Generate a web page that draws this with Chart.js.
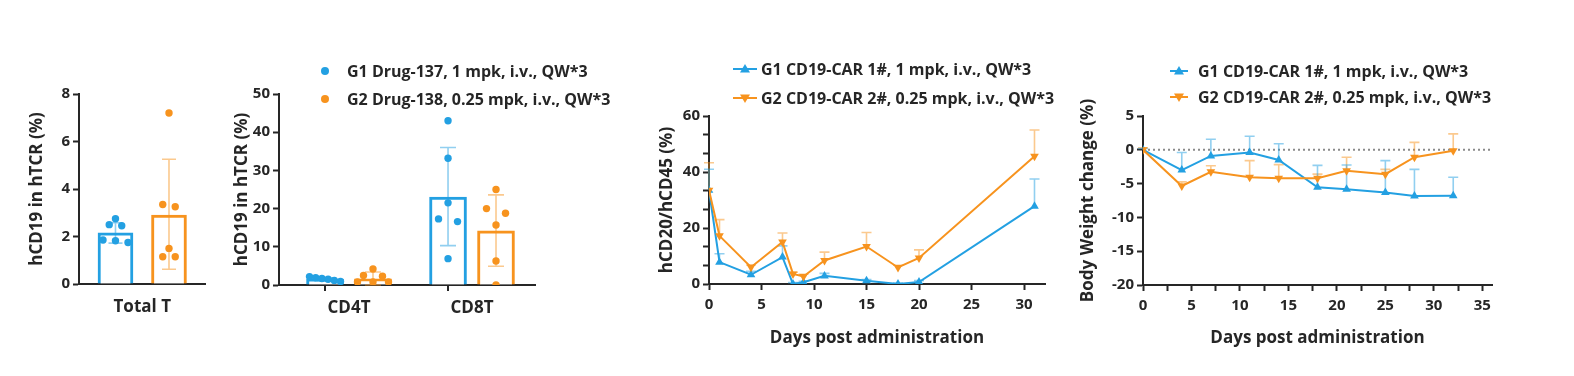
<!DOCTYPE html>
<html>
<head>
<meta charset="utf-8">
<script src="https://cdn.jsdelivr.net/npm/chart.js@4.4.1/dist/chart.umd.min.js"></script>
<style>
  html, body { margin: 0; padding: 0; background: #fff; }
  #wrap { position: relative; width: 1574px; height: 376px; overflow: hidden; }
  #wrap canvas { position: absolute; top: 0; }
</style>
</head>
<body>
<div id="wrap">
  <canvas id="cTotal" width="230" height="376" style="left:0px"></canvas>
  <canvas id="cSubset" width="390" height="376" style="left:230px"></canvas>
  <canvas id="cB" width="440" height="376" style="left:620px"></canvas>
  <canvas id="cBW" width="514" height="376" style="left:1060px"></canvas>
</div>
<script>
const BLUE = '#23a0e2';
const ORANGE = '#f7931e';
const BLUE_ERR = 'rgba(35,160,226,0.5)';
const ORANGE_ERR = 'rgba(247,147,30,0.5)';
const AXIS = '#262626';
const FONT = '"Open Sans", "Noto Sans", sans-serif';
const H = 376;

// ---- panel 1 : Total T ----
const totalCategory = ['Total T'];
const totalMean = [2.15, 2.9];
const totalHi = [2.58, 5.25];
const totalLo = [1.72, 0.62];
const totalG1 = [2.75, 2.5, 2.45, 1.85, 1.82, 1.75];
const totalG2 = [7.2, 3.35, 3.25, 1.5, 1.15, 1.15];

// ---- panel 2 : CD4T / CD8T ----
const subsetCategories = ['CD4T', 'CD8T'];
const subsetG1Mean = [1.5, 23.0];
const subsetG1Hi = [1.9, 36.0];
const subsetG1Lo = [1.1, 10.3];
const subsetG2Mean = [1.6, 14.2];
const subsetG2Hi = [3.4, 23.6];
const subsetG2Lo = [0, 4.9];
const subsetG1Pts = [[2.2, 1.9, 1.7, 1.5, 1.2, 0.9], [43, 33.2, 21.5, 17.3, 16.6, 6.9]];
const subsetG2Pts = [[4.2, 2.5, 2.3, 0.8, 0.8, 0.8], [25, 20, 18.8, 15.7, 6.3, 0]];
const drugLegend = ['G1 Drug-137, 1 mpk, i.v., QW*3', 'G2 Drug-138, 0.25 mpk, i.v., QW*3'];

// ---- panel 3 : hCD20/hCD45 ----
const bDays = [0, 1, 4, 7, 8, 9, 11, 15, 18, 20, 31];
const bG1 = [33.5, 7.8, 3.3, 9.6, 0, 0.6, 2.9, 1.2, 0, 0.7, 27.8];
const bG1Sem = [7.5, 3.0, 1.2, 4.0, 0.5, 0.4, 0.9, 0.4, 0.3, 0.5, 9.7];
const bG2 = [33.5, 17.2, 6.0, 15.0, 3.6, 2.7, 8.4, 13.4, 5.9, 9.3, 45.6];
const bG2Sem = [9.8, 5.8, 0.8, 3.2, 0.6, 0.8, 3.0, 5.0, 0.8, 2.9, 9.4];
const carLegend = ['G1 CD19-CAR 1#, 1 mpk, i.v., QW*3', 'G2 CD19-CAR 2#, 0.25 mpk, i.v., QW*3'];

// ---- panel 4 : body weight ----
const bwDays = [0, 4, 7, 11, 14, 18, 21, 25, 28, 32];
const bwG1 = [0, -3.0, -0.9, -0.4, -1.5, -5.55, -5.85, -6.3, -6.85, -6.8];
const bwG1Sem = [0.2, 2.6, 2.45, 2.4, 2.4, 3.25, 3.6, 4.7, 3.95, 2.75];
const bwG2 = [0, -5.35, -3.25, -4.05, -4.2, -4.2, -3.1, -3.6, -1.1, -0.15];
const bwG2Sem = [0.3, 0.6, 0.9, 2.45, 2.0, 0.6, 2.0, 0.7, 2.2, 2.5];

const tickFont = { family: FONT, size: 15, weight: 'bold' };
const titleFont = { family: FONT, size: 17, weight: 'bold' };
const legendSize = 16;

function yAxis(min, max, step, title, width, isMajor) {
  return {
    type: 'linear', min, max,
    afterBuildTicks: s => {
      const t = [];
      for (let v = min; v <= max + 1e-6; v += step) t.push({ value: Math.round(v * 1000) / 1000 });
      s.ticks = t;
    },
    afterFit: s => { s.width = width; s.paddingTop = 0; s.paddingBottom = 0; },
    border: { display: true, color: AXIS, width: 2 },
    grid: { display: true, drawOnChartArea: false, drawTicks: true, tickLength: 6, tickWidth: 2, tickColor: AXIS },
    ticks: {
      color: AXIS, font: tickFont, padding: 3, autoSkip: false,
      callback: v => (!isMajor || isMajor(v)) ? v : ''
    },
    title: { display: true, text: title, color: AXIS, font: titleFont, padding: 0 }
  };
}

function xAxis(min, max, tickVals, labelFn, height, title, showTicks) {
  return {
    type: 'linear', min, max, offset: false,
    afterBuildTicks: s => { s.ticks = tickVals.map(v => ({ value: v })); },
    afterFit: s => { s.height = height; s.paddingLeft = 0; s.paddingRight = 0; },
    border: { display: true, color: AXIS, width: 2 },
    grid: { display: true, offset: false, drawOnChartArea: false, drawTicks: showTicks, tickLength: 6, tickWidth: 2, tickColor: AXIS },
    ticks: {
      color: AXIS, font: showTicks ? tickFont : titleFont, padding: showTicks ? 6 : 13,
      autoSkip: false, maxRotation: 0, callback: labelFn
    },
    title: title ? { display: true, text: title, color: AXIS, font: titleFont, padding: { top: 0, bottom: 28 } } : { display: false }
  };
}

// spread points of close value side by side, returns pixel offsets
function swarm(vals, pxY, gap, span) {
  const order = vals.map((v, i) => i).sort((a, b) => vals[b] - vals[a]);
  const off = vals.map(() => 0);
  let group = [order[0]];
  const flush = () => {
    const g = group.length > 1 ? Math.min(gap, span / (group.length - 1)) : 0;
    group.forEach((k, j) => { off[k] = (j - (group.length - 1) / 2) * g; });
  };
  for (let n = 1; n < order.length; n++) {
    if ((vals[order[n - 1]] - vals[order[n]]) * pxY < 5) group.push(order[n]);
    else { flush(); group = [order[n]]; }
  }
  flush();
  return off;
}

function errorBars(items, cap, phase) {
  const draw = chart => {
    const { ctx, scales: { x, y } } = chart;
    ctx.save();
    ctx.lineWidth = 1.6;
    items.forEach(it => {
      const px = x.getPixelForValue(it.x);
      const yl = y.getPixelForValue(it.lo), yh = y.getPixelForValue(it.hi);
      ctx.strokeStyle = it.color;
      ctx.beginPath();
      ctx.moveTo(px, yl); ctx.lineTo(px, yh);
      ctx.moveTo(px - cap, yh); ctx.lineTo(px + cap, yh);
      if (it.capLo) { ctx.moveTo(px - cap, yl); ctx.lineTo(px + cap, yl); }
      ctx.stroke();
    });
    ctx.restore();
  };
  if (phase === 'afterBars') {
    // bars carry the highest order, so they are drawn first
    return { id: 'errbars', afterDatasetDraw(chart, args) { if (args.index === 0) draw(chart); } };
  }
  return { id: 'errbars', beforeDatasetsDraw: draw };
}

// small tick marks under the x axis at given values (GraphPad style)
function underTicks(values) {
  return {
    id: 'underTicks',
    afterDraw(chart) {
      const { ctx, chartArea, scales: { x } } = chart;
      ctx.save();
      ctx.strokeStyle = AXIS;
      ctx.lineWidth = 2;
      ctx.beginPath();
      values.forEach(v => {
        const px = Math.round(x.getPixelForValue(v));
        ctx.moveTo(px, chartArea.bottom); ctx.lineTo(px, chartArea.bottom + 6);
      });
      ctx.stroke();
      ctx.restore();
    }
  };
}

function legend(items, markX, textX, ys) {
  return {
    id: 'legendBox',
    afterDraw(chart) {
      const ctx = chart.ctx;
      ctx.save();
      items.forEach((it, i) => {
        const y = ys[i];
        ctx.fillStyle = it.color;
        ctx.strokeStyle = it.color;
        if (it.marker === 'dot') {
          ctx.beginPath(); ctx.arc(markX, y, 4, 0, Math.PI * 2); ctx.fill();
        } else {
          ctx.lineWidth = 2;
          ctx.beginPath(); ctx.moveTo(markX - it.half, y); ctx.lineTo(markX + it.half, y); ctx.stroke();
          const d = it.marker === 'up' ? -1 : 1;
          ctx.beginPath();
          ctx.moveTo(markX, y + d * 5);
          ctx.lineTo(markX - 5, y - d * 3.5);
          ctx.lineTo(markX + 5, y - d * 3.5);
          ctx.closePath(); ctx.fill();
        }
        ctx.fillStyle = AXIS;
        ctx.font = `bold ${legendSize}px ${FONT}`;
        ctx.textBaseline = 'middle';
        ctx.textAlign = 'left';
        ctx.fillText(it.text, textX, y + 1);
      });
      ctx.restore();
    }
  };
}

const zeroLine = {
  id: 'zeroLine',
  beforeDatasetsDraw(chart) {
    const { ctx, chartArea, scales: { y } } = chart;
    const py = y.getPixelForValue(0);
    ctx.save();
    ctx.strokeStyle = '#8a8a8a';
    ctx.lineWidth = 2;
    ctx.setLineDash([2, 3]);
    ctx.beginPath(); ctx.moveTo(chartArea.left, py); ctx.lineTo(chartArea.right, py); ctx.stroke();
    ctx.restore();
  }
};

const baseOpts = {
  responsive: false,
  animation: false,
  events: [],
  plugins: { legend: { display: false }, tooltip: { enabled: false } }
};

// ================= panel 1 =================
(function () {
  const xMin = -0.682, xMax = 1.673, pxX = 53.5, pxY = 190 / 8;
  const groups = [totalG1, totalG2];
  const colors = [BLUE, ORANGE];
  const scatter = groups.map((vals, g) => {
    const off = swarm(vals, pxY, 12.5, 25);
    return {
      type: 'scatter', order: 1,
      data: vals.map((v, i) => ({ x: g + off[i] / pxX, y: v })),
      pointRadius: 3.7, pointBorderWidth: 0, backgroundColor: colors[g], borderColor: colors[g]
    };
  });
  new Chart(document.getElementById('cTotal'), {
    type: 'bar',
    data: {
      datasets: [{
        order: 2,
        data: totalMean.map((v, i) => ({ x: i, y: v })),
        backgroundColor: '#fff', borderColor: colors, borderWidth: 3, barThickness: 35
      }, ...scatter]
    },
    options: {
      ...baseOpts,
      layout: { padding: { left: 27, right: 25, top: 94, bottom: 0 } },
      scales: {
        x: xAxis(xMin, xMax, [0.5], () => totalCategory[0], H - 284, null, false),
        y: yAxis(0, 8, 2, 'hCD19 in hTCR (%)', 52)
      }
    },
    plugins: [errorBars(totalMean.map((m, i) => ({ x: i, lo: totalLo[i], hi: totalHi[i], color: i ? ORANGE_ERR : BLUE_ERR, capLo: true })), 7, 'afterBars')]
  });
})();

// ================= panel 2 =================
(function () {
  const OFF = 0.195, pxX = 123, pxY = 191 / 50;
  const xMin = -0.569, xMax = 1.512;
  const bars = [], barColors = [], errs = [], scatter = [];
  subsetCategories.forEach((c, g) => {
    bars.push({ x: g - OFF, y: subsetG1Mean[g] }, { x: g + OFF, y: subsetG2Mean[g] });
    barColors.push(BLUE, ORANGE);
    errs.push({ x: g - OFF, lo: subsetG1Lo[g], hi: subsetG1Hi[g], color: BLUE_ERR, capLo: true });
    errs.push({ x: g + OFF, lo: subsetG2Lo[g], hi: subsetG2Hi[g], color: ORANGE_ERR, capLo: true });
    [[subsetG1Pts[g], -OFF, BLUE], [subsetG2Pts[g], OFF, ORANGE]].forEach(([vals, o, col]) => {
      const off = swarm(vals, pxY, 19, 31);
      scatter.push({
        type: 'scatter', order: 1,
        data: vals.map((v, i) => ({ x: g + o + off[i] / pxX, y: v })),
        pointRadius: 3.7, pointBorderWidth: 0, backgroundColor: col, borderColor: col
      });
    });
  });
  new Chart(document.getElementById('cSubset'), {
    type: 'bar',
    data: {
      datasets: [{
        order: 2,
        data: bars, backgroundColor: '#fff', borderColor: barColors, borderWidth: 3, barThickness: 37
      }, ...scatter]
    },
    options: {
      ...baseOpts,
      layout: { padding: { left: 2, right: 390 - 305, top: 94, bottom: 0 } },
      scales: {
        x: xAxis(xMin, xMax, [0, 1], v => subsetCategories[Math.round(v)], H - 285, null, false),
        y: yAxis(0, 50, 10, 'hCD19 in hTCR (%)', 47)
      }
    },
    plugins: [
      errorBars(errs, 8, 'afterBars'),
      underTicks(subsetCategories.map((c, g) => g - OFF)),
      legend([
        { marker: 'dot', color: BLUE, text: drugLegend[0] },
        { marker: 'dot', color: ORANGE, text: drugLegend[1] }
      ], 325 - 230, 347 - 230, [71, 99])
    ]
  });
})();

// ================= panel 3 =================
(function () {
  const errs = [];
  bDays.forEach((d, i) => {
    errs.push({ x: d, lo: bG2[i], hi: bG2[i] + bG2Sem[i], color: ORANGE_ERR });
    errs.push({ x: d, lo: bG1[i], hi: bG1[i] + bG1Sem[i], color: BLUE_ERR });
  });
  new Chart(document.getElementById('cB'), {
    type: 'line',
    data: {
      datasets: [
        { data: bDays.map((d, i) => ({ x: d, y: bG2[i] })), borderColor: ORANGE, backgroundColor: ORANGE,
          borderWidth: 2, pointStyle: 'triangle', rotation: 180, pointRadius: 5, pointBorderWidth: 0 },
        { data: bDays.map((d, i) => ({ x: d, y: bG1[i] })), borderColor: BLUE, backgroundColor: BLUE,
          borderWidth: 2, pointStyle: 'triangle', pointRadius: 5, pointBorderWidth: 0 }
      ]
    },
    options: {
      ...baseOpts,
      layout: { padding: { left: 37, right: 440 - 425, top: 116, bottom: 0 } },
      scales: {
        x: xAxis(0, 32, [0, 5, 10, 15, 20, 25, 30], v => v, H - 284, 'Days post administration', true),
        y: yAxis(0, 60, 20 / 3, 'hCD20/hCD45 (%)', 52, v => Math.abs(v - Math.round(v / 20) * 20) < 1e-3)
      }
    },
    plugins: [
      errorBars(errs, 5),
      legend([
        { marker: 'up', half: 12, color: BLUE, text: carLegend[0] },
        { marker: 'down', half: 12, color: ORANGE, text: carLegend[1] }
      ], 745 - 620, 761 - 620, [69, 98])
    ]
  });
})();

// ================= panel 4 =================
(function () {
  const errs = [];
  bwDays.forEach((d, i) => {
    errs.push({ x: d, lo: bwG2[i], hi: bwG2[i] + bwG2Sem[i], color: ORANGE_ERR });
    errs.push({ x: d, lo: bwG1[i], hi: bwG1[i] + bwG1Sem[i], color: BLUE_ERR });
  });
  const xt = [];
  for (let v = 0; v <= 35; v += 2.5) xt.push(v);
  new Chart(document.getElementById('cBW'), {
    type: 'line',
    data: {
      datasets: [
        { data: bwDays.map((d, i) => ({ x: d, y: bwG2[i] })), borderColor: ORANGE, backgroundColor: ORANGE,
          borderWidth: 2, pointStyle: 'triangle', rotation: 180, pointRadius: 5, pointBorderWidth: 0 },
        { data: bwDays.map((d, i) => ({ x: d, y: bwG1[i] })), borderColor: BLUE, backgroundColor: BLUE,
          borderWidth: 2, pointStyle: 'triangle', pointRadius: 5, pointBorderWidth: 0 }
      ]
    },
    options: {
      ...baseOpts,
      layout: { padding: { left: 18, right: 514 - 432, top: 116, bottom: 0 } },
      scales: {
        x: xAxis(0, 36, xt, v => (v % 5 === 0 ? v : ''), H - 285, 'Days post administration', true),
        y: yAxis(-20, 5, 5, 'Body Weight change (%)', 65)
      }
    },
    plugins: [
      zeroLine,
      errorBars(errs, 5),
      legend([
        { marker: 'up', half: 9, color: BLUE, text: carLegend[0] },
        { marker: 'down', half: 9, color: ORANGE, text: carLegend[1] }
      ], 1179 - 1060, 1198 - 1060, [71, 97])
    ]
  });
})();
</script>
</body>
</html>
